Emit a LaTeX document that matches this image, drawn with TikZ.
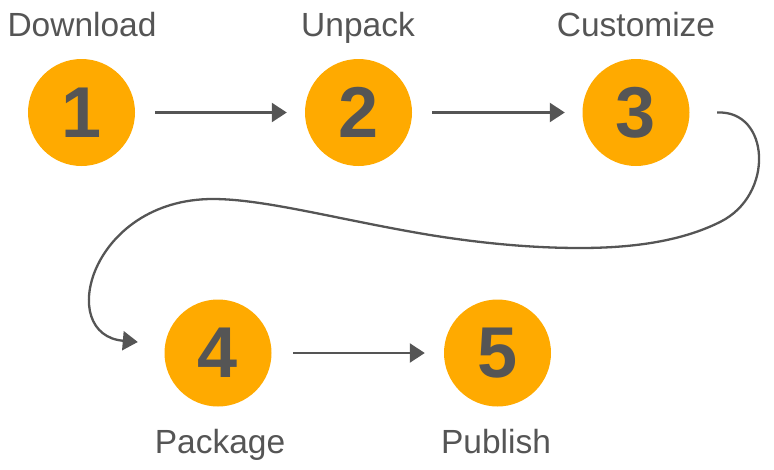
\documentclass[tikz,border=0pt]{standalone}
\usepackage{fontspec}
\setmainfont{Liberation Sans}
\usetikzlibrary{arrows.meta}
\definecolor{stepor}{HTML}{FFAA00}
\definecolor{inkgray}{HTML}{555555}
\begin{document}
\begin{tikzpicture}[x=1pt,y=-1pt,
  stepcircle/.style={circle,fill=stepor,draw=none,minimum size=107pt,inner sep=0pt,
     text=inkgray,font=\fontsize{72}{72}\selectfont\bfseries},
  steplabel/.style={anchor=base,text=inkgray,font=\fontsize{33.5}{33.5}\selectfont,inner sep=0pt},
  link/.style={draw=inkgray,line width=2.3pt,-{Triangle[length=15pt,width=19pt]}}]
\useasboundingbox (0,0) rectangle (774,469);
\node[stepcircle] (n1) at (81.5,112.5) {1};
\node[stepcircle] (n2) at (358.5,112.5) {2};
\node[stepcircle] (n3) at (636,112.5) {3};
\node[stepcircle] (n4) at (218,353) {4};
\node[stepcircle] (n5) at (497.5,353) {5};
\node[steplabel] (l1) at (82,36) {Download};
\node[steplabel] (l2) at (358,36) {Unpack};
\node[steplabel] (l3) at (636,36) {Customize};
\node[steplabel] (l4) at (220,453) {Package};
\node[steplabel] (l5) at (496,453) {Publish};
\draw[link] ([xshift=20pt]n1.east) -- ([xshift=-18pt]n2.west);
\draw[link] ([xshift=20pt]n2.east) -- ([xshift=-17.5pt]n3.west);
\draw[link] ([xshift=21.5pt]n4.east) -- ([xshift=-19pt]n5.west);
\coordinate (s3) at ([xshift=27.5pt]n3.east);
\coordinate (e4) at ([xshift=-26.5pt,yshift=11pt]n4.west);
\draw[link] (s3) .. controls (770,110) and (775,195) .. (720,222)
  .. controls (680,242) and (630,248) .. (580,248)
  .. controls (530,248) and (480,243) .. (430,235)
  .. controls (340,220) and (265,199) .. (213,199)
  .. controls (90,199) and (55,335) .. (e4);
\end{tikzpicture}
\end{document}
